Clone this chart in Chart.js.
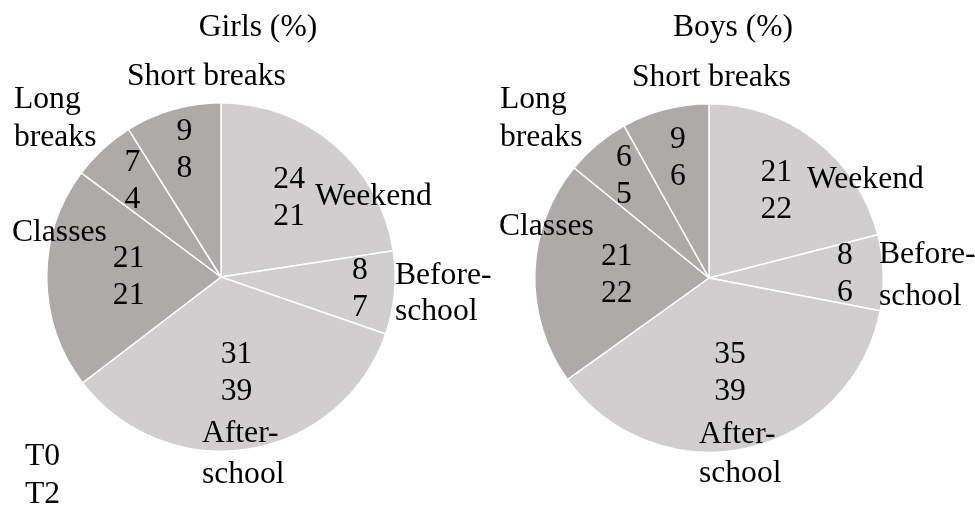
<!DOCTYPE html>
<html>
<head>
<meta charset="utf-8">
<script src="https://cdn.jsdelivr.net/npm/chart.js@4.4.0/dist/chart.umd.min.js"></script>
<style>
  body { margin: 0; background: #fff; }
  #wrap { position: relative; width: 975px; height: 505px; }
  canvas { position: absolute; top: 0; left: 0; }
</style>
</head>
<body>
<div id="wrap">
  <canvas id="girls" width="975" height="505"></canvas>
  <canvas id="boys" width="975" height="505"></canvas>
</div>
<script>
const categories = ["Weekend", "Before-school", "After-school", "Classes", "Long breaks", "Short breaks"];
const nameLines = [["Weekend"], ["Before-", "school"], ["After-", "school"], ["Classes"], ["Long", "breaks"], ["Short breaks"]];

const girlsT0 = [24, 8, 31, 21, 7, 9];
const girlsT2 = [21, 7, 39, 21, 4, 8];
const boysT0 = [21, 8, 35, 21, 6, 9];
const boysT2 = [22, 6, 39, 22, 5, 6];

// slice sizes as they appear in the picture
const girlsShare = [22.6, 7.7, 34.3, 20.6, 5.9, 8.9];
const boysShare = [21, 7, 37.1, 20.8, 6, 8.1];

const timeLabels = ["T0", "T2"];

const LIGHT = "#d0cece";
const DARK = "#aeaaaa";
const sliceColors = [LIGHT, LIGHT, LIGHT, DARK, DARK, DARK];
const FONT = "31.6px 'Liberation Serif', 'Times New Roman', serif";

// label placement: number radius factor, name offsets from pie centre
const girlsLayout = {
  title: "Girls (%)", titleX: 258, titleY: 28,
  k: [0.6, 0.8, 0.56, 0.53, 0.75, 0.76],
  name: [
    {dx: 94, dy: [-80]},
    {dx: 174, dy: [-1, 35]},
    {dx: -19, dy: [157, 198]},
    {dx: -209, dy: [-44]},
    {dx: -207, dy: [-177, -139]},
    {dx: -94, dy: [-200]}
  ],
  legend: true
};
const boysLayout = {
  title: "Boys (%)", titleX: 733, titleY: 28,
  k: [0.63, 0.78, 0.56, 0.53, 0.76, 0.71],
  name: [
    {dx: 98, dy: [-98]},
    {dx: 170, dy: [-23, 19]},
    {dx: -10, dy: [157, 196]},
    {dx: -210, dy: [-51]},
    {dx: -209, dy: [-178, -140]},
    {dx: -77, dy: [-200]}
  ],
  legend: false
};

const pieLabels = {
  id: "pieLabels",
  afterDatasetsDraw(chart, args, opts) {
    const ctx = chart.ctx;
    const lay = opts.layout;
    const meta = chart.getDatasetMeta(0);
    ctx.save();
    ctx.font = FONT;
    ctx.fillStyle = "#000";
    ctx.textBaseline = "middle";

    ctx.textAlign = "center";
    ctx.fillText(lay.title, lay.titleX, lay.titleY);

    meta.data.forEach((arc, i) => {
      const p = arc.getProps(["x", "y", "startAngle", "endAngle", "outerRadius"], true);
      const mid = (p.startAngle + p.endAngle) / 2;
      const nx = p.x + Math.cos(mid) * p.outerRadius * lay.k[i];
      const ny = p.y + Math.sin(mid) * p.outerRadius * lay.k[i];
      ctx.textAlign = "center";
      ctx.fillText(String(opts.t0[i]), nx, ny - 18.5);
      ctx.fillText(String(opts.t2[i]), nx, ny + 18.5);

      const nm = lay.name[i];
      ctx.textAlign = "left";
      nameLines[i].forEach((line, j) => {
        ctx.fillText(line, p.x + nm.dx, p.y + nm.dy[j]);
      });
    });

    if (lay.legend) {
      ctx.textAlign = "left";
      ctx.fillText(timeLabels[0], 25, 457);
      ctx.fillText(timeLabels[1], 25, 495);
    }
    ctx.restore();
  }
};

function makePie(id, share, t0, t2, layout, padding) {
  return new Chart(document.getElementById(id), {
    type: "pie",
    data: {
      labels: categories,
      datasets: [{
        data: share,
        backgroundColor: sliceColors,
        borderColor: "#ffffff",
        borderWidth: 1.5
      }]
    },
    options: {
      responsive: false,
      animation: false,
      layout: {padding: padding},
      plugins: {
        legend: {display: false},
        title: {display: false},
        tooltip: {enabled: false},
        pieLabels: {layout: layout, t0: t0, t2: t2}
      }
    },
    plugins: [pieLabels]
  });
}

makePie("girls", girlsShare, girlsT0, girlsT2, girlsLayout, {left: 46, right: 579, top: 102, bottom: 53});
makePie("boys", boysShare, boysT0, boysT2, boysLayout, {left: 534, right: 91, top: 103, bottom: 52});
</script>
</body>
</html>
